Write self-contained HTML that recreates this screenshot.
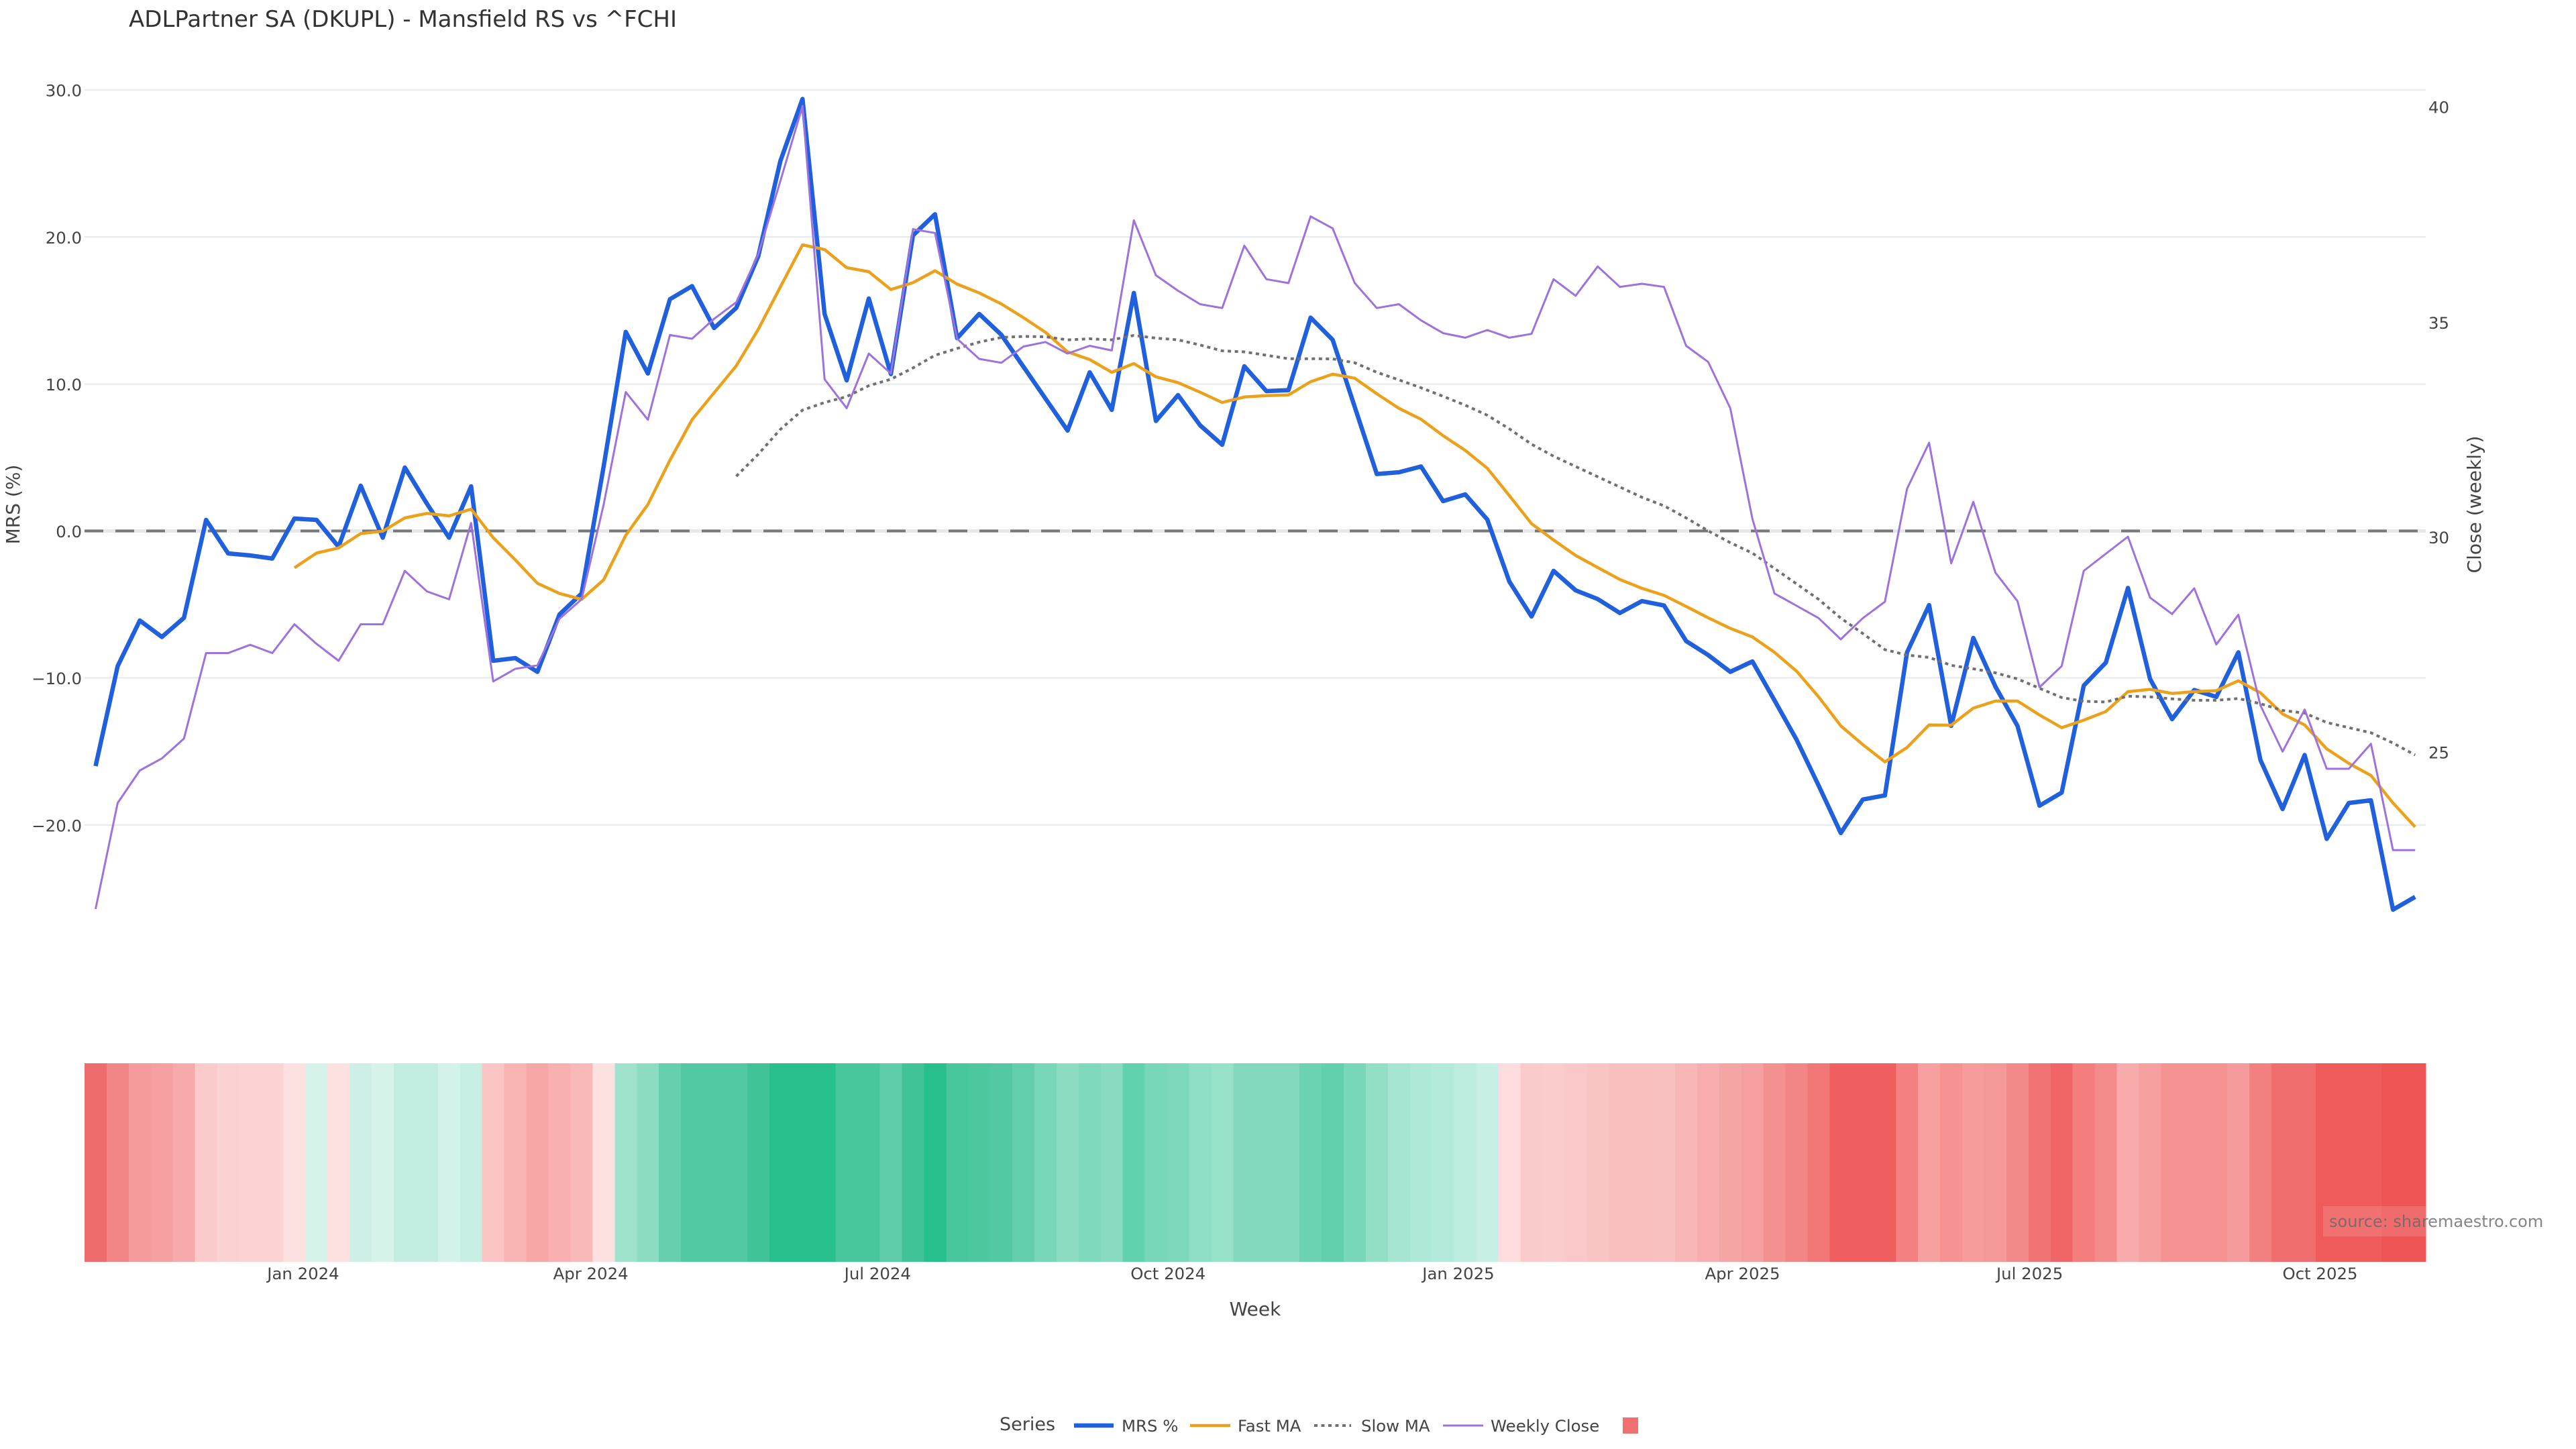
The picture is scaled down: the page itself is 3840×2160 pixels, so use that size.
<!DOCTYPE html>
<html>
<head>
<meta charset="utf-8">
<style>
html,body{margin:0;padding:0;background:#fff;}
svg{display:block;}
text{font-family:"DejaVu Sans","Liberation Sans",sans-serif;}
</style>
</head>
<body>
<svg width="3840" height="2160" viewBox="0 0 3840 2160" xmlns="http://www.w3.org/2000/svg">
<rect width="3840" height="2160" fill="#ffffff"/>

<!-- Title -->
<text x="192" y="40" font-size="34" fill="#333">ADLPartner SA (DKUPL) - Mansfield RS vs ^FCHI</text>

<!-- Gridlines -->
<g stroke="#e9ecef" stroke-width="2.5">
<line x1="126" y1="134" x2="3616" y2="134"/>
<line x1="126" y1="353.3" x2="3616" y2="353.3"/>
<line x1="126" y1="572.6" x2="3616" y2="572.6"/>
<line x1="126" y1="1010.5" x2="3616" y2="1010.5"/>
<line x1="126" y1="1229.8" x2="3616" y2="1229.8"/>
</g>
<line x1="126" y1="791.5" x2="3616" y2="791.5" stroke="#e6e8ec" stroke-width="5"/>
<line x1="126" y1="791.5" x2="3616" y2="791.5" stroke="#76777b" stroke-width="4" stroke-dasharray="28,18"/>

<!-- Left tick labels -->
<g font-size="24.4" fill="#444" text-anchor="end">
<text x="122" y="143.5">30.0</text>
<text x="122" y="362.8">20.0</text>
<text x="122" y="582">10.0</text>
<text x="122" y="801">0.0</text>
<text x="122" y="1020">−10.0</text>
<text x="122" y="1239.3">−20.0</text>
</g>
<!-- Right tick labels -->
<g font-size="24.4" fill="#444" text-anchor="start">
<text x="3620" y="168.5">40</text>
<text x="3620" y="490">35</text>
<text x="3620" y="810">30</text>
<text x="3620" y="1130.5">25</text>
</g>
<!-- Axis titles -->
<text transform="translate(29,752) rotate(-90)" font-size="28" fill="#444" text-anchor="middle">MRS (%)</text>
<text transform="translate(3698,752) rotate(-90)" font-size="28" fill="#444" text-anchor="middle">Close (weekly)</text>

<!-- MRS -->
<polyline fill="none" stroke="#2160dd" stroke-width="6.5" stroke-linejoin="round" points="142.5,1142 175.4,993 208.4,925 241.3,949.5 274.2,921 307.2,775 340.1,825 373,828 405.9,832.6 438.9,773 471.8,775 504.7,815 537.7,724 570.6,801.5 603.5,697 636.5,751 669.4,801.5 702.3,725 735.2,985 768.2,981 801.1,1001.5 834,916 867,884.7 899.9,695 932.8,494.8 965.8,556.8 998.7,446 1031.6,426.5 1064.5,489 1097.5,459 1130.4,381.7 1163.3,240 1196.3,147.5 1229.2,468 1262.1,567 1295.1,445 1328,557.6 1360.9,351 1393.8,319.4 1426.8,504 1459.7,468 1492.6,499 1525.6,546.6 1558.5,594.2 1591.4,641.8 1624.4,555 1657.3,611 1690.2,436.7 1723.1,627.5 1756.1,589 1789,634 1821.9,663 1854.9,546 1887.8,583 1920.7,581.6 1953.7,473.5 1986.6,506.6 2019.5,606.6 2052.4,706.6 2085.4,704 2118.3,695.4 2151.2,747 2184.2,737 2217.1,774.5 2250,867 2283,919 2315.9,851 2348.8,880 2381.7,893 2414.7,913.8 2447.6,896 2480.5,902.6 2513.5,955.6 2546.4,976.5 2579.3,1001.5 2612.3,986 2645.2,1044 2678.1,1102.6 2711,1171 2744,1241.8 2776.9,1191.8 2809.8,1185.7 2842.8,972.4 2875.7,902 2908.6,1082 2941.6,951 2974.5,1023.5 3007.4,1082 3040.3,1201 3073.3,1181.6 3106.2,1022 3139.1,987.8 3172.1,876.5 3205,1012 3237.9,1072 3270.9,1028.6 3303.8,1038.8 3336.7,972.4 3369.6,1133 3402.6,1206 3435.5,1125.5 3468.4,1250.5 3501.4,1197 3534.3,1193 3567.2,1356 3600.2,1337"/>

<!-- Fast MA -->
<polyline fill="none" stroke="#eba11b" stroke-width="4.5" stroke-linejoin="round" points="438.9,846.4 471.8,824.5 504.7,816.8 537.7,795.4 570.6,791.8 603.5,772 636.5,765.3 669.4,769 702.3,759 735.2,801.5 768.2,834.7 801.1,869.4 834,884.7 867,893.4 899.9,864.3 932.8,798 965.8,752 998.7,686 1031.6,625.7 1064.5,585.5 1097.5,545.4 1130.4,490.8 1163.3,427.7 1196.3,365 1229.2,372 1262.1,399 1295.1,405 1328,431.6 1360.9,421.4 1393.8,403.6 1426.8,423.5 1459.7,436.7 1492.6,453 1525.6,473.5 1558.5,495.4 1591.4,524.5 1624.4,536 1657.3,555 1690.2,542 1723.1,561.7 1756.1,570.4 1789,584.7 1821.9,600 1854.9,591.8 1887.8,589.8 1920.7,588.8 1953.7,569 1986.6,557.7 2019.5,563.8 2052.4,587 2085.4,608.7 2118.3,625 2151.2,649.5 2184.2,671.4 2217.1,698 2250,738.8 2283,780.6 2315.9,805 2348.8,828 2381.7,846 2414.7,863.8 2447.6,877 2480.5,887.5 2513.5,904 2546.4,921 2579.3,936.7 2612.3,949.5 2645.2,972.4 2678.1,1000.5 2711,1038.8 2744,1082 2776.9,1110 2809.8,1135.7 2842.8,1114.3 2875.7,1080.6 2908.6,1081 2941.6,1055.6 2974.5,1045 3007.4,1045 3040.3,1065.8 3073.3,1084.7 3106.2,1073.5 3139.1,1060.7 3172.1,1031 3205,1027.6 3237.9,1033.7 3270.9,1031 3303.8,1029.6 3336.7,1014.8 3369.6,1032.7 3402.6,1064.3 3435.5,1080.6 3468.4,1116.3 3501.4,1138 3534.3,1156 3567.2,1197 3600.2,1232.7"/>

<!-- Slow MA -->
<polyline fill="none" stroke="#707070" stroke-width="4" stroke-dasharray="5,5.5" points="1097.5,710 1130.4,677 1163.3,640 1196.3,611.4 1229.2,600 1262.1,591.3 1295.1,575 1328,565.3 1360.9,548.5 1393.8,529.6 1426.8,519.4 1459.7,510 1492.6,503 1525.6,501.5 1558.5,502 1591.4,506.6 1624.4,505 1657.3,506.6 1690.2,500 1723.1,504 1756.1,506.6 1789,514.3 1821.9,523 1854.9,524.5 1887.8,529.6 1920.7,534.7 1953.7,534.7 1986.6,535 2019.5,540.8 2052.4,555 2085.4,566.3 2118.3,578 2151.2,590.8 2184.2,604 2217.1,619 2250,639.3 2283,662.2 2315.9,680 2348.8,695.4 2381.7,710.7 2414.7,726 2447.6,741.3 2480.5,754 2513.5,772 2546.4,791.3 2579.3,809 2612.3,824.5 2645.2,847.4 2678.1,870.4 2711,893.4 2744,921.4 2776.9,944.4 2809.8,968.4 2842.8,976.5 2875.7,980 2908.6,991.8 2941.6,997 2974.5,1003 3007.4,1012 3040.3,1026 3073.3,1039.8 3106.2,1045.4 3139.1,1046.4 3172.1,1037.8 3205,1038.8 3237.9,1041.8 3270.9,1043.9 3303.8,1043.9 3336.7,1041.3 3369.6,1049 3402.6,1059 3435.5,1063 3468.4,1077 3501.4,1084.7 3534.3,1092.3 3567.2,1107.6 3600.2,1125.5"/>

<!-- Weekly Close -->
<polyline fill="none" stroke="#9d72de" stroke-width="3" stroke-linejoin="round" points="142.5,1355 175.4,1197 208.4,1148.5 241.3,1130.6 274.2,1101 307.2,973.5 340.1,973.5 373,961.2 405.9,973.5 438.9,930.6 471.8,959.7 504.7,985 537.7,930.6 570.6,930.6 603.5,851 636.5,881.6 669.4,893.4 702.3,779.6 735.2,1015.8 768.2,997 801.1,991.8 834,922.4 867,893.4 899.9,752 932.8,584.4 965.8,625.7 998.7,499.4 1031.6,505 1064.5,475.3 1097.5,450.6 1130.4,378.9 1163.3,269.8 1196.3,158 1229.2,565.4 1262.1,608.5 1295.1,527 1328,556.8 1360.9,341.6 1393.8,347.3 1426.8,505 1459.7,535 1492.6,540.8 1525.6,516.6 1558.5,509.8 1591.4,527 1624.4,515.5 1657.3,522.4 1690.2,328.4 1723.1,410.4 1756.1,433.4 1789,453.5 1821.9,459.2 1854.9,366.2 1887.8,416.2 1920.7,422 1953.7,322.6 1986.6,340.4 2019.5,422 2052.4,459.2 2085.4,453.5 2118.3,477.6 2151.2,496.6 2184.2,503.4 2217.1,492 2250,503.4 2283,497.7 2315.9,416.2 2348.8,440.9 2381.7,397.2 2414.7,427.7 2447.6,423 2480.5,427.7 2513.5,515.5 2546.4,539.6 2579.3,608.5 2612.3,773.5 2645.2,884.7 2678.1,903 2711,921.4 2744,953 2776.9,921.4 2809.8,897 2842.8,728.6 2875.7,660 2908.6,839.8 2941.6,748 2974.5,853.6 3007.4,896 3040.3,1024.5 3073.3,992.9 3106.2,851 3139.1,825.5 3172.1,800 3205,890.8 3237.9,915.3 3270.9,877 3303.8,960.7 3336.7,916.3 3369.6,1051.5 3402.6,1120.4 3435.5,1057.7 3468.4,1146 3501.4,1146 3534.3,1108.7 3567.2,1267.3 3600.2,1267.3"/>

<!-- Heatmap strip -->
<g shape-rendering="crispEdges">
<rect x="126" y="1585" width="33.6" height="296" fill="#ef6c6c"/>
<rect x="158.9" y="1585" width="33.6" height="296" fill="#f28585"/>
<rect x="191.9" y="1585" width="33.6" height="296" fill="#f59b9b"/>
<rect x="224.8" y="1585" width="33.6" height="296" fill="#f5a0a0"/>
<rect x="257.7" y="1585" width="33.6" height="296" fill="#f7aaab"/>
<rect x="290.7" y="1585" width="33.6" height="296" fill="#fbcaca"/>
<rect x="323.6" y="1585" width="33.6" height="296" fill="#fad2d2"/>
<rect x="356.5" y="1585" width="33.6" height="296" fill="#fbd3d3"/>
<rect x="389.4" y="1585" width="33.6" height="296" fill="#fbd3d3"/>
<rect x="422.4" y="1585" width="33.6" height="296" fill="#fde0e0"/>
<rect x="455.3" y="1585" width="33.6" height="296" fill="#d6f3ea"/>
<rect x="488.2" y="1585" width="33.6" height="296" fill="#fde0e0"/>
<rect x="521.2" y="1585" width="33.6" height="296" fill="#cdefe5"/>
<rect x="554.1" y="1585" width="33.6" height="296" fill="#d6f3ea"/>
<rect x="587" y="1585" width="33.6" height="296" fill="#c4ede1"/>
<rect x="620" y="1585" width="33.6" height="296" fill="#c4ede1"/>
<rect x="652.9" y="1585" width="33.6" height="296" fill="#d3f2e9"/>
<rect x="685.8" y="1585" width="33.6" height="296" fill="#c6eee2"/>
<rect x="718.7" y="1585" width="33.6" height="296" fill="#fbc5c5"/>
<rect x="751.7" y="1585" width="33.6" height="296" fill="#f8b3b3"/>
<rect x="784.6" y="1585" width="33.6" height="296" fill="#f7a6a6"/>
<rect x="817.5" y="1585" width="33.6" height="296" fill="#f8b0b0"/>
<rect x="850.5" y="1585" width="33.6" height="296" fill="#f9b9b9"/>
<rect x="883.4" y="1585" width="33.6" height="296" fill="#fde0e0"/>
<rect x="916.3" y="1585" width="33.6" height="296" fill="#a0e3cd"/>
<rect x="949.3" y="1585" width="33.6" height="296" fill="#8cdcc2"/>
<rect x="982.2" y="1585" width="33.6" height="296" fill="#66cfae"/>
<rect x="1015.1" y="1585" width="33.6" height="296" fill="#52c9a2"/>
<rect x="1048" y="1585" width="33.6" height="296" fill="#52c9a2"/>
<rect x="1081" y="1585" width="33.6" height="296" fill="#52c9a2"/>
<rect x="1113.9" y="1585" width="33.6" height="296" fill="#3fc397"/>
<rect x="1146.8" y="1585" width="33.6" height="296" fill="#27bf8c"/>
<rect x="1179.8" y="1585" width="33.6" height="296" fill="#27bf8c"/>
<rect x="1212.7" y="1585" width="33.6" height="296" fill="#27bf8c"/>
<rect x="1245.6" y="1585" width="33.6" height="296" fill="#48c69c"/>
<rect x="1278.6" y="1585" width="33.6" height="296" fill="#48c69c"/>
<rect x="1311.5" y="1585" width="33.6" height="296" fill="#5fcdab"/>
<rect x="1344.4" y="1585" width="33.6" height="296" fill="#3fc397"/>
<rect x="1377.3" y="1585" width="33.6" height="296" fill="#27bf8c"/>
<rect x="1410.3" y="1585" width="33.6" height="296" fill="#48c69c"/>
<rect x="1443.2" y="1585" width="33.6" height="296" fill="#4cc79e"/>
<rect x="1476.1" y="1585" width="33.6" height="296" fill="#52c9a2"/>
<rect x="1509.1" y="1585" width="33.6" height="296" fill="#62ceac"/>
<rect x="1542" y="1585" width="33.6" height="296" fill="#78d6b9"/>
<rect x="1574.9" y="1585" width="33.6" height="296" fill="#8cdcc2"/>
<rect x="1607.9" y="1585" width="33.6" height="296" fill="#80d8bd"/>
<rect x="1640.8" y="1585" width="33.6" height="296" fill="#88dbc1"/>
<rect x="1673.7" y="1585" width="33.6" height="296" fill="#62d2ae"/>
<rect x="1706.6" y="1585" width="33.6" height="296" fill="#78d6b9"/>
<rect x="1739.6" y="1585" width="33.6" height="296" fill="#7dd8bb"/>
<rect x="1772.5" y="1585" width="33.6" height="296" fill="#8ddec4"/>
<rect x="1805.4" y="1585" width="33.6" height="296" fill="#98e1c9"/>
<rect x="1838.4" y="1585" width="33.6" height="296" fill="#82d9bd"/>
<rect x="1871.3" y="1585" width="33.6" height="296" fill="#82d9bd"/>
<rect x="1904.2" y="1585" width="33.6" height="296" fill="#82d9bd"/>
<rect x="1937.2" y="1585" width="33.6" height="296" fill="#6bd3b2"/>
<rect x="1970.1" y="1585" width="33.6" height="296" fill="#62d0ad"/>
<rect x="2003" y="1585" width="33.6" height="296" fill="#78d6b9"/>
<rect x="2035.9" y="1585" width="33.6" height="296" fill="#92dfc6"/>
<rect x="2068.9" y="1585" width="33.6" height="296" fill="#a6e5d1"/>
<rect x="2101.8" y="1585" width="33.6" height="296" fill="#aee8d6"/>
<rect x="2134.7" y="1585" width="33.6" height="296" fill="#b4eadb"/>
<rect x="2167.7" y="1585" width="33.6" height="296" fill="#bcecde"/>
<rect x="2200.6" y="1585" width="33.6" height="296" fill="#c8efe3"/>
<rect x="2233.5" y="1585" width="33.6" height="296" fill="#fcdcdc"/>
<rect x="2266.5" y="1585" width="33.6" height="296" fill="#fbcaca"/>
<rect x="2299.4" y="1585" width="33.6" height="296" fill="#fbcccc"/>
<rect x="2332.3" y="1585" width="33.6" height="296" fill="#fac8c8"/>
<rect x="2365.2" y="1585" width="33.6" height="296" fill="#f9c4c4"/>
<rect x="2398.2" y="1585" width="33.6" height="296" fill="#f9bebe"/>
<rect x="2431.1" y="1585" width="33.6" height="296" fill="#f9bebe"/>
<rect x="2464" y="1585" width="33.6" height="296" fill="#f9c0c0"/>
<rect x="2497" y="1585" width="33.6" height="296" fill="#f8b6b6"/>
<rect x="2529.9" y="1585" width="33.6" height="296" fill="#f7adad"/>
<rect x="2562.8" y="1585" width="33.6" height="296" fill="#f6a5a5"/>
<rect x="2595.8" y="1585" width="33.6" height="296" fill="#f5a0a0"/>
<rect x="2628.7" y="1585" width="33.6" height="296" fill="#f39191"/>
<rect x="2661.6" y="1585" width="33.6" height="296" fill="#f28585"/>
<rect x="2694.5" y="1585" width="33.6" height="296" fill="#f17676"/>
<rect x="2727.5" y="1585" width="33.6" height="296" fill="#ef5f5f"/>
<rect x="2760.4" y="1585" width="33.6" height="296" fill="#ef5f5f"/>
<rect x="2793.3" y="1585" width="33.6" height="296" fill="#ef5f5f"/>
<rect x="2826.3" y="1585" width="33.6" height="296" fill="#f38181"/>
<rect x="2859.2" y="1585" width="33.6" height="296" fill="#f7a0a0"/>
<rect x="2892.1" y="1585" width="33.6" height="296" fill="#f59292"/>
<rect x="2925.1" y="1585" width="33.6" height="296" fill="#f79b9b"/>
<rect x="2958" y="1585" width="33.6" height="296" fill="#f59898"/>
<rect x="2990.9" y="1585" width="33.6" height="296" fill="#f38a8a"/>
<rect x="3023.8" y="1585" width="33.6" height="296" fill="#f27373"/>
<rect x="3056.8" y="1585" width="33.6" height="296" fill="#f06666"/>
<rect x="3089.7" y="1585" width="33.6" height="296" fill="#f47e7e"/>
<rect x="3122.6" y="1585" width="33.6" height="296" fill="#f48b8b"/>
<rect x="3155.6" y="1585" width="33.6" height="296" fill="#f8abab"/>
<rect x="3188.5" y="1585" width="33.6" height="296" fill="#f59f9f"/>
<rect x="3221.4" y="1585" width="33.6" height="296" fill="#f59393"/>
<rect x="3254.4" y="1585" width="33.6" height="296" fill="#f59393"/>
<rect x="3287.3" y="1585" width="33.6" height="296" fill="#f59393"/>
<rect x="3320.2" y="1585" width="33.6" height="296" fill="#f69b9b"/>
<rect x="3353.1" y="1585" width="33.6" height="296" fill="#f28080"/>
<rect x="3386.1" y="1585" width="33.6" height="296" fill="#f06e6e"/>
<rect x="3419" y="1585" width="33.6" height="296" fill="#f06e6e"/>
<rect x="3451.9" y="1585" width="33.6" height="296" fill="#ef5a5a"/>
<rect x="3484.9" y="1585" width="33.6" height="296" fill="#ef5a5a"/>
<rect x="3517.8" y="1585" width="33.6" height="296" fill="#ef5a5a"/>
<rect x="3550.7" y="1585" width="33.6" height="296" fill="#ee5454"/>
<rect x="3583.7" y="1585" width="33" height="296" fill="#ee5454"/>
</g>

<!-- source watermark -->
<rect x="3463" y="1798" width="153" height="45" fill="#ffffff" fill-opacity="0.14"/>
<text x="3472" y="1829" font-size="24" fill="#666" fill-opacity="0.8">source: sharemaestro.com</text>

<!-- X tick labels -->
<g font-size="24.4" fill="#444" text-anchor="middle">
<text x="452" y="1907">Jan 2024</text>
<text x="880.6" y="1907">Apr 2024</text>
<text x="1308.3" y="1907">Jul 2024</text>
<text x="1741.2" y="1907">Oct 2024</text>
<text x="2174" y="1907">Jan 2025</text>
<text x="2597.5" y="1907">Apr 2025</text>
<text x="3025.6" y="1907">Jul 2025</text>
<text x="3458.5" y="1907">Oct 2025</text>
</g>
<text x="1871" y="1961" font-size="28" fill="#444" text-anchor="middle">Week</text>

<!-- Legend -->
<text x="1490" y="2132" font-size="27" fill="#444">Series</text>
<line x1="1601" y1="2125" x2="1660" y2="2125" stroke="#2160dd" stroke-width="6.5"/>
<text x="1672" y="2134" font-size="24.4" fill="#444">MRS %</text>
<line x1="1774" y1="2125" x2="1834" y2="2125" stroke="#eba11b" stroke-width="4.5"/>
<text x="1845" y="2134" font-size="24.4" fill="#444">Fast MA</text>
<line x1="1959" y1="2125" x2="2014" y2="2125" stroke="#707070" stroke-width="4" stroke-dasharray="5,5.5"/>
<text x="2029" y="2134" font-size="24.4" fill="#444">Slow MA</text>
<line x1="2151" y1="2125" x2="2211" y2="2125" stroke="#9d72de" stroke-width="3"/>
<text x="2222" y="2134" font-size="24.4" fill="#444">Weekly Close</text>
<rect x="2419" y="2113" width="23" height="24" fill="#f07070"/>
</svg>
</body>
</html>
